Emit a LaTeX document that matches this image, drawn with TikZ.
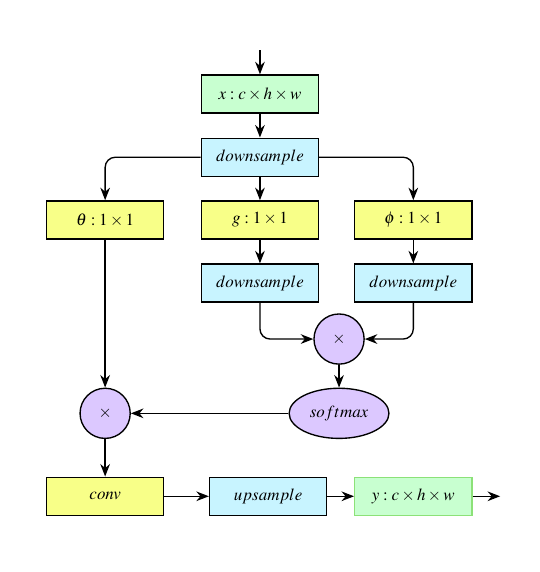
\documentclass[tikz,border=0pt]{standalone}
\usepackage{amsmath, amssymb}
\usepackage{mathptmx}
\usepackage{xcolor}
\usepackage{tikz}
\usetikzlibrary{arrows.meta, shapes.geometric}

\definecolor{ingreen}{RGB}{200,255,208}
\definecolor{outline}{RGB}{140,225,120}
\definecolor{opyellow}{RGB}{248,255,136}
\definecolor{sampblue}{RGB}{200,244,255}
\definecolor{mulpurple}{RGB}{220,200,255}

\tikzset{
    box/.style={draw, line width=0.8pt, minimum width=2.43cm, minimum height=0.79cm, inner sep=0pt},
    opbox/.style={box, fill=opyellow},
    sampbox/.style={box, fill=sampblue},
    mulnode/.style={draw, line width=0.8pt, circle, fill=mulpurple, minimum size=1.04cm, inner sep=0pt},
    arr/.style={line width=0.8pt, -{Stealth[length=2.6mm, width=2mm]}},
}

\begin{document}
\begin{tikzpicture}
        \useasboundingbox (0,0) rectangle (11.18,-11.86);
        % input and first downsampling
        \coordinate (in) at (5.39,-1.04);
        \node[box, fill=ingreen] (x) at (5.39,-1.95) {$x : c\times h\times w$};
        \node[sampbox] (ds) at (5.39,-3.26) {$downsample$};
        % the three 1x1 branches
        \node[opbox] (theta) at (2.18,-4.56) {$\theta : 1\times 1$};
        \node[opbox] (g) at (5.39,-4.56) {$g : 1\times 1$};
        \node[opbox] (phi) at (8.57,-4.56) {$\phi : 1\times 1$};
        \node[sampbox] (dsg) at (5.39,-5.87) {$downsample$};
        \node[sampbox] (dsphi) at (8.57,-5.87) {$downsample$};
        % products and softmax
        \node[mulnode] (mulA) at (7.03,-7.03) {$\times$};
        \node[draw, line width=0.8pt, ellipse, fill=mulpurple, minimum width=2.07cm, minimum height=1.04cm, inner sep=0pt] (soft) at (7.03,-8.57) {$softmax$};
        \node[mulnode] (mulB) at (2.18,-8.57) {$\times$};
        % output row
        \node[opbox] (conv) at (2.18,-10.29) {$conv$};
        \node[sampbox] (up) at (5.56,-10.29) {$upsample$};
        \node[box, draw=outline, fill=ingreen] (y) at (8.57,-10.29) {$y : c\times h\times w$};
        \coordinate (out) at (10.37,-10.29);

        \draw[arr] (in) -- (x);
        \draw[arr] (x) -- (ds);
        \draw[arr, rounded corners=6pt] (ds.west) -| (theta.north);
        \draw[arr] (ds) -- (g);
        \draw[arr, rounded corners=6pt] (ds.east) -| (phi.north);
        \draw[arr] (g) -- (dsg);
        \draw[arr] (phi) -- (dsphi);
        \draw[arr, rounded corners=6pt] (dsg.south) |- (mulA.west);
        \draw[arr, rounded corners=6pt] (dsphi.south) |- (mulA.east);
        \draw[arr] (mulA) -- (soft);
        \draw[arr] (soft) -- (mulB);
        \draw[arr] (theta) -- (mulB);
        \draw[arr] (mulB) -- (conv);
        \draw[arr] (conv) -- (up);
        \draw[arr] (up) -- (y);
        \draw[arr] (y) -- (out);
    \end{tikzpicture}
\end{document}
